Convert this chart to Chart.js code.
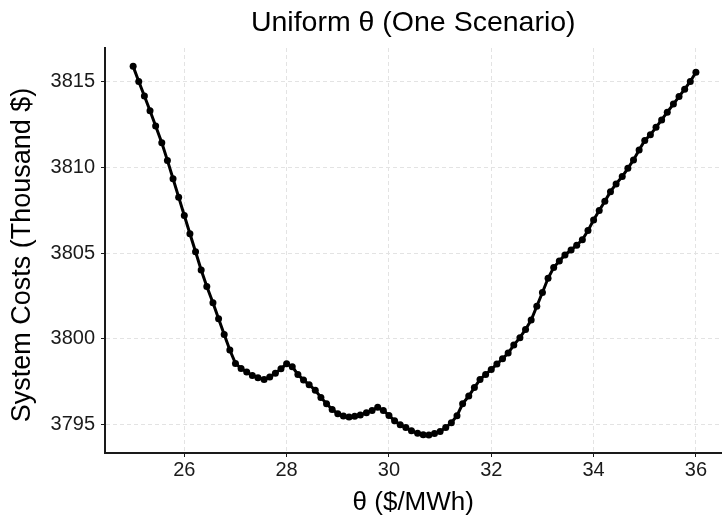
<!DOCTYPE html>
<html>
<head>
<meta charset="utf-8">
<script src="https://cdn.jsdelivr.net/npm/chart.js@4.4.1/dist/chart.umd.min.js"></script>
<style>
  html, body { margin: 0; padding: 0; background: #fff; }
  #wrap { width: 725px; height: 521px; }
</style>
</head>
<body>
<div id="wrap"><canvas id="costChart"></canvas></div>
<script>
// theta grid ($/MWh) and system costs (thousand $)
const theta = [
  25.00, 25.11, 25.22, 25.33, 25.44, 25.56, 25.67, 25.78, 25.89, 26.00,
  26.11, 26.22, 26.33, 26.44, 26.56, 26.67, 26.78, 26.89, 27.00, 27.11,
  27.22, 27.33, 27.44, 27.56, 27.67, 27.78, 27.89, 28.00, 28.11, 28.22,
  28.33, 28.44, 28.56, 28.67, 28.78, 28.89, 29.00, 29.11, 29.22, 29.33,
  29.44, 29.56, 29.67, 29.78, 29.89, 30.00, 30.11, 30.22, 30.33, 30.44,
  30.56, 30.67, 30.78, 30.89, 31.00, 31.11, 31.22, 31.33, 31.44, 31.56,
  31.67, 31.78, 31.89, 32.00, 32.11, 32.22, 32.33, 32.44, 32.56, 32.67,
  32.78, 32.89, 33.00, 33.11, 33.22, 33.33, 33.44, 33.56, 33.67, 33.78,
  33.89, 34.00, 34.11, 34.22, 34.33, 34.44, 34.56, 34.67, 34.78, 34.89,
  35.00, 35.11, 35.22, 35.33, 35.44, 35.56, 35.67, 35.78, 35.89, 36.00
];
const systemCosts = [
  3815.88, 3815.00, 3814.15, 3813.29, 3812.41, 3811.43, 3810.40, 3809.33, 3808.26, 3807.19,
  3806.13, 3805.08, 3804.01, 3803.05, 3802.11, 3801.17, 3800.26, 3799.35, 3798.57, 3798.28,
  3798.07, 3797.87, 3797.74, 3797.64, 3797.78, 3797.99, 3798.26, 3798.55, 3798.38, 3797.93,
  3797.60, 3797.33, 3797.00, 3796.59, 3796.22, 3795.89, 3795.64, 3795.50, 3795.45, 3795.49,
  3795.56, 3795.70, 3795.83, 3796.01, 3795.83, 3795.54, 3795.23, 3795.00, 3794.83, 3794.65,
  3794.50, 3794.42, 3794.40, 3794.48, 3794.61, 3794.83, 3795.12, 3795.52, 3796.22, 3796.67,
  3797.16, 3797.64, 3797.93, 3798.22, 3798.53, 3798.84, 3799.17, 3799.64, 3800.07, 3800.55,
  3801.10, 3801.90, 3802.70, 3803.53, 3804.16, 3804.54, 3804.89, 3805.18, 3805.46, 3805.77,
  3806.31, 3806.93, 3807.48, 3808.02, 3808.58, 3809.03, 3809.46, 3809.94, 3810.43, 3811.01,
  3811.56, 3811.89, 3812.33, 3812.76, 3813.21, 3813.68, 3814.12, 3814.55, 3815.00, 3815.54
];
const xTicks = [26, 28, 30, 32, 34, 36];
const yTicks = [3795, 3800, 3805, 3810, 3815];

const FONT = '"Liberation Sans", Arial, sans-serif';
const INK = '#1a1a1a';

// main title centred over the plot area, y title sits a little below centre like the source
const plotTitles = {
  id: 'plotTitles',
  afterDraw(chart) {
    const { ctx, chartArea } = chart;
    ctx.save();
    ctx.fillStyle = '#000';
    ctx.textAlign = 'center';
    ctx.textBaseline = 'middle';
    ctx.font = '28.5px ' + FONT;
    ctx.fillText('Uniform θ (One Scenario)', (chartArea.left + chartArea.right) / 2, 23);
    ctx.translate(23, 255);
    ctx.rotate(-Math.PI / 2);
    ctx.font = '27px ' + FONT;
    ctx.fillText('System Costs (Thousand $)', 0, 0);
    ctx.restore();
  }
};

const points = theta.map((t, i) => ({ x: t, y: systemCosts[i] }));

new Chart(document.getElementById('costChart'), {
  type: 'line',
  data: {
    datasets: [{
      data: points,
      borderColor: '#000',
      backgroundColor: '#000',
      borderWidth: 3,
      pointRadius: 3.5,
      pointHoverRadius: 3.5,
      pointBorderWidth: 0,
      tension: 0
    }]
  },
  options: {
    responsive: true,
    maintainAspectRatio: false,
    animation: false,
    layout: { padding: { top: 48, left: 0, right: 0, bottom: 0 } },
    plugins: {
      legend: { display: false },
      tooltip: { enabled: false }
    },
    scales: {
      x: {
        type: 'linear',
        min: 24.45,
        max: 36.5,
        afterBuildTicks: s => { s.ticks = xTicks.map(v => ({ value: v })); },
        afterFit: s => { s.height = 68; },
        grid: { color: '#e3e3e3', lineWidth: 1, tickColor: INK, tickLength: 4, tickWidth: 1 },
        border: { display: true, color: INK, width: 2, dash: [4, 3] },
        ticks: { color: INK, font: { family: FONT, size: 20 }, padding: 1, maxRotation: 0, callback: v => String(v) },
        title: { display: true, text: 'θ ($/MWh)', color: '#000', font: { family: FONT, size: 26 }, padding: { top: 0, bottom: 3 } }
      },
      y: {
        type: 'linear',
        min: 3793.35,
        max: 3816.95,
        afterBuildTicks: s => { s.ticks = yTicks.map(v => ({ value: v })); },
        afterFit: s => { s.width = 105; },
        grid: { color: '#e3e3e3', lineWidth: 1, tickColor: INK, tickLength: 4, tickWidth: 1 },
        border: { display: true, color: INK, width: 2, dash: [4, 3] },
        ticks: { color: INK, font: { family: FONT, size: 20 }, padding: 6, callback: v => String(v) },
        title: { display: false }
      }
    }
  },
  plugins: [plotTitles]
});
</script>
</body>
</html>
